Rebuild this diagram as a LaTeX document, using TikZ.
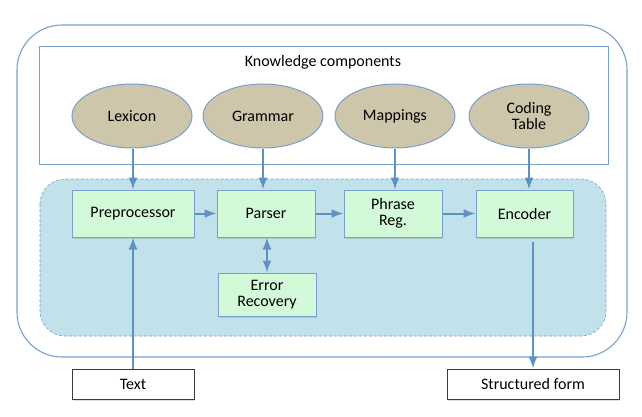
\documentclass[tikz,border=0pt]{standalone}
\usepackage{fontspec}
\setmainfont{Carlito}
\usepackage{tikz}
\usetikzlibrary{arrows.meta,shapes.geometric,shadows,calc,positioning}
\definecolor{FrameBlue}{RGB}{120,160,205}
\definecolor{ArrowBlue}{RGB}{95,145,195}
\definecolor{PoolBlue}{RGB}{193,226,234}
\definecolor{StageGreen}{RGB}{210,250,216}
\definecolor{KnowTan}{RGB}{206,198,170}
\definecolor{EdgeGray}{RGB}{60,60,60}

\begin{document}
\begin{tikzpicture}[x=1pt,y=-1pt,>=Latex,
    font=\fontsize{16}{18}\selectfont,
    know/.style={ellipse,draw=FrameBlue,fill=KnowTan,line width=1pt,minimum width=120pt,minimum height=64pt,align=center,inner sep=0pt},
    stage/.style={draw=FrameBlue,fill=StageGreen,line width=1pt,minimum width=98pt,minimum height=47pt,align=center,inner sep=1pt,
      drop shadow={opacity=0.25,shadow xshift=0.5pt,shadow yshift=-1.5pt}},
    io/.style={draw=EdgeGray,fill=white,line width=0.8pt,minimum height=30pt,
      drop shadow={opacity=0.25,shadow xshift=0.5pt,shadow yshift=-1.5pt}},
    flow/.style={->,line width=2pt,ArrowBlue}]
      \useasboundingbox (0,0) rectangle (642,417);
      \draw[FrameBlue,line width=1.1pt,rounded corners=45pt] (17,25) rectangle (627,357);
      \draw[FrameBlue,line width=0.9pt] (39,46) rectangle (608,164);
      \node (kc) at (323,62) {Knowledge components};
      \fill[PoolBlue,rounded corners=25pt] (40,179) rectangle (606,336);
      \draw[FrameBlue,densely dashed,line width=0.6pt,rounded corners=25pt] (40,179) rectangle (606,336);
      % knowledge sources
      \node[know] (lex) at (132,116) {Lexicon};
      \node[know] (gram) at (263,116) {Grammar};
      \node[know] (map) at (395,116) {Mappings};
      \node[know] (code) at (529,116) {Coding\\[-2pt]Table};
      % processing stages
      \node[stage,minimum width=122pt] (pre) at (133,213.5) {Preprocessor};
      \node[stage] (pars) at (266,213.5) {Parser};
      \node[stage] (phr) at (393,213.5) {Phrase\\[-2pt]Reg.};
      \node[stage,minimum width=97pt] (enc) at (524.5,213.5) {Encoder};
      \node[stage,minimum height=43pt] (err) at (267,294.5) {Error\\[-2pt]Recovery};
      \node[io,minimum width=122pt] (txt) at (133,384.5) {Text};
      \node[io,minimum width=172pt] (sf) at (533,384) {Structured form};
      \draw[flow] (lex.south -| pre.north) -- (pre.north);
      \draw[flow] (gram.south) -- (gram.south |- pars.north);
      \draw[flow] (map.south) -- (map.south |- phr.north);
      \draw[flow] (code.south) -- (code.south |- enc.north);
      \draw[flow] (pre) -- (pars);
      \draw[flow] (pars) -- (phr);
      \draw[flow] (phr) -- (enc);
      \draw[flow,<->] (pars.south -| err.north) -- (err.north);
      \draw[flow] (txt.north) -- (txt.north |- pre.south);
      \draw[flow,shorten <=4pt] (sf.north |- enc.south) -- (sf.north);
    \end{tikzpicture}
\end{document}
